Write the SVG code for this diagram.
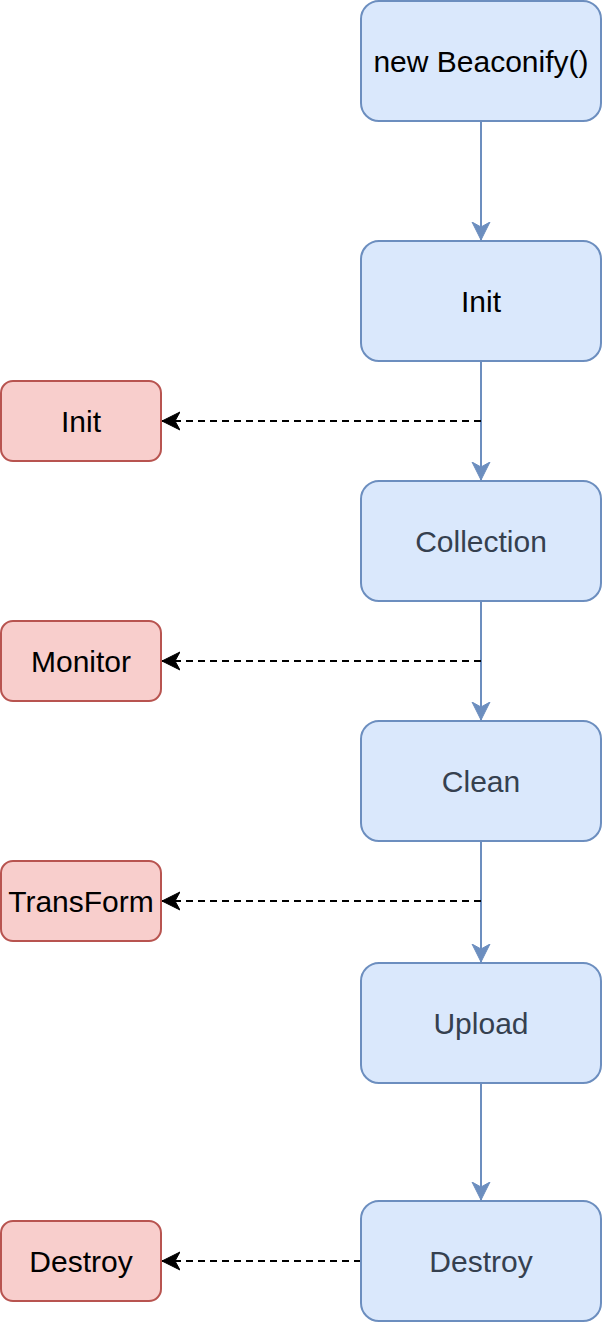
<svg xmlns="http://www.w3.org/2000/svg" width="602" height="1322" viewBox="0 0 602 1322">
<style>
.b{fill:#dae8fc;stroke:#6c8ebf;stroke-width:2}
.r{fill:#f8cecc;stroke:#b85450;stroke-width:2}
text{font-family:"Liberation Sans",Arial,sans-serif;font-size:30px;text-anchor:middle;fill:#000}
.g{fill:#35404f}
.fl{fill:none;stroke:#6c8ebf;stroke-width:2}
.dl{fill:none;stroke:#000;stroke-width:1.8;stroke-dasharray:7 5}
</style>
<defs>
<marker id="ab" markerUnits="userSpaceOnUse" markerWidth="22" markerHeight="22" viewBox="0 0 22 22" refX="18" refY="11" orient="auto">
<path d="M0,2 L18,11 L0,20 L5,11 Z" fill="#6c8ebf" stroke="#6c8ebf" stroke-width="1"/>
</marker>
<marker id="ak" markerUnits="userSpaceOnUse" markerWidth="22" markerHeight="22" viewBox="0 0 22 22" refX="18" refY="11" orient="auto">
<path d="M0,2 L18,11 L0,20 L5,11 Z" fill="#000" stroke="#000" stroke-width="1"/>
</marker>
</defs>
<g id="connectors">
<path class="fl" d="M481,121 V240" marker-end="url(#ab)"/>
<path class="fl" d="M481,361 V480" marker-end="url(#ab)"/>
<path class="fl" d="M481,601 V720" marker-end="url(#ab)"/>
<path class="fl" d="M481,841 V962" marker-end="url(#ab)"/>
<path class="fl" d="M481,1083 V1200" marker-end="url(#ab)"/>
<path class="dl" d="M481,421 H162" marker-end="url(#ak)"/>
<path class="dl" d="M481,661 H162" marker-end="url(#ak)"/>
<path class="dl" d="M481,901 H162" marker-end="url(#ak)"/>
<path class="dl" d="M361,1261 H162" marker-end="url(#ak)"/>
</g>
<g id="n-new"><rect class="b" x="361" y="1" width="240" height="120" rx="18"/><text x="481" y="72">new Beaconify()</text></g>
<g id="n-init"><rect class="b" x="361" y="241" width="240" height="120" rx="18"/><text x="481" y="312">Init</text></g>
<g id="n-collection"><rect class="b" x="361" y="481" width="240" height="120" rx="18"/><text class="g" x="481" y="552">Collection</text></g>
<g id="n-clean"><rect class="b" x="361" y="721" width="240" height="120" rx="18"/><text class="g" x="481" y="792">Clean</text></g>
<g id="n-upload"><rect class="b" x="361" y="963" width="240" height="120" rx="18"/><text class="g" x="481" y="1034">Upload</text></g>
<g id="n-destroy"><rect class="b" x="361" y="1201" width="240" height="120" rx="18"/><text class="g" x="481" y="1272">Destroy</text></g>
<g id="r-init"><rect class="r" x="1" y="381" width="160" height="80" rx="12"/><text x="81" y="432">Init</text></g>
<g id="r-monitor"><rect class="r" x="1" y="621" width="160" height="80" rx="12"/><text x="81" y="672">Monitor</text></g>
<g id="r-transform"><rect class="r" x="1" y="861" width="160" height="80" rx="12"/><text x="81" y="912">TransForm</text></g>
<g id="r-destroy"><rect class="r" x="1" y="1221" width="160" height="80" rx="12"/><text x="81" y="1272">Destroy</text></g>
</svg>
